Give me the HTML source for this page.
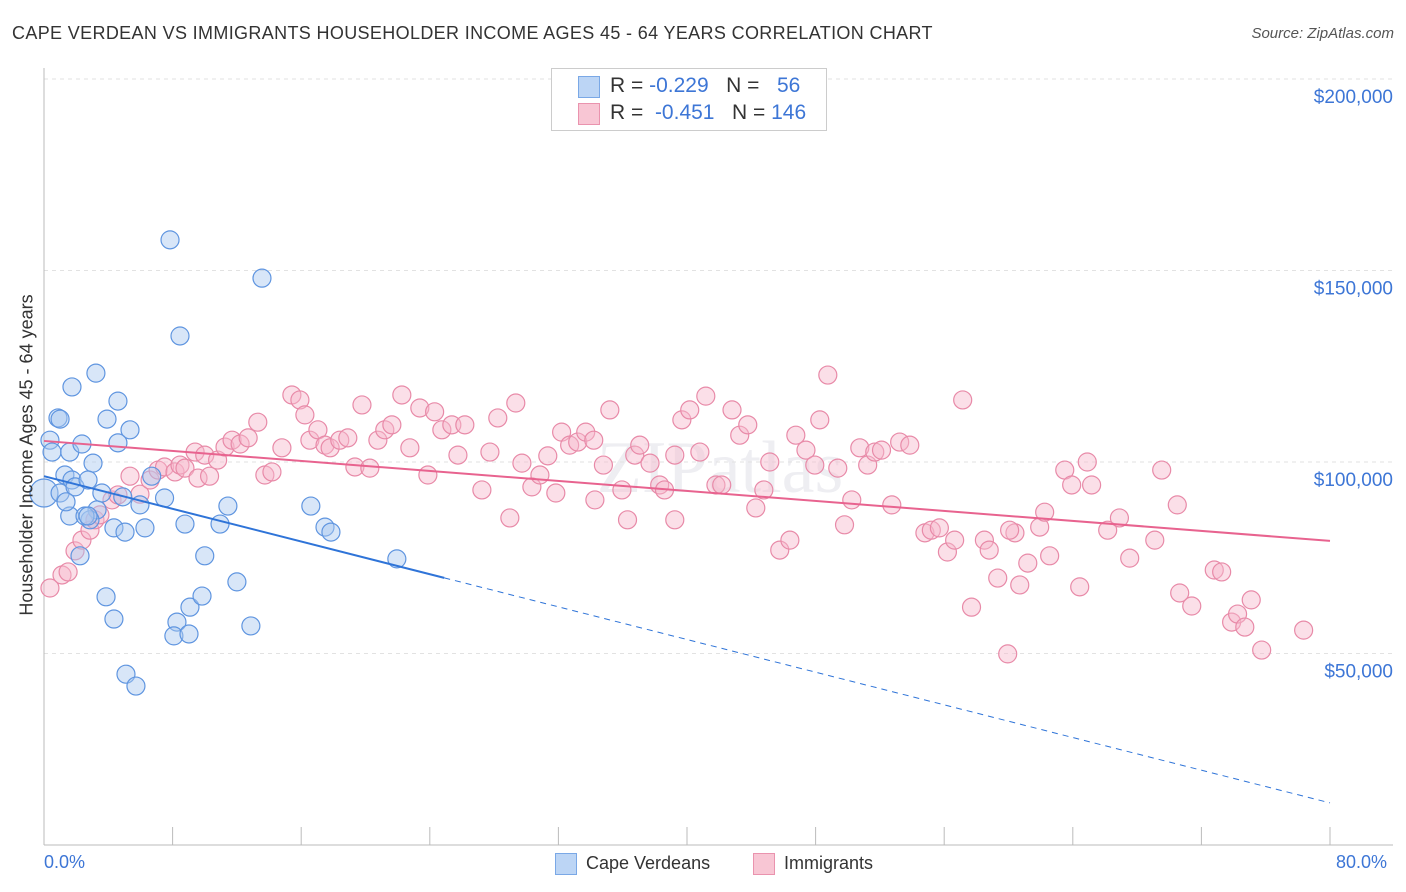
<!DOCTYPE html>
<html><head><meta charset="utf-8">
<style>
body{margin:0;background:#fff;font-family:"Liberation Sans",sans-serif;}
#wrap{position:relative;width:1406px;height:892px;overflow:hidden;}
.t{position:absolute;white-space:nowrap;}
</style></head>
<body>
<div id="wrap">
<div class="t" style="left:12px;top:23px;font-size:18px;color:#333;letter-spacing:0.35px;">CAPE VERDEAN VS IMMIGRANTS HOUSEHOLDER INCOME AGES 45 - 64 YEARS CORRELATION CHART</div>
<div class="t" style="right:12px;top:25px;font-size:15px;color:#555;font-style:italic;">Source: ZipAtlas.com</div>
<svg id="svg" width="1406" height="892" style="position:absolute;left:0;top:0"></svg>
<div style="position:absolute;left:551px;top:68px;width:274px;height:61px;border:1px solid #ccc;background:#fff;">
 <div style="position:absolute;left:26px;top:7px;width:20px;height:20px;background:#bcd5f5;border:1px solid #7aa8e6"></div>
 <div class="t" style="left:58px;top:5px;font-size:21px;color:#333">R = <span style="color:#3d76d6">-0.229</span>&nbsp;&nbsp;&nbsp;N = &nbsp;&nbsp;<span style="color:#3d76d6">56</span></div>
 <div style="position:absolute;left:26px;top:34px;width:20px;height:20px;background:#f8c6d4;border:1px solid #ea93ae"></div>
 <div class="t" style="left:58px;top:32px;font-size:21px;color:#333">R = &nbsp;<span style="color:#3d76d6">-0.451</span>&nbsp;&nbsp;&nbsp;N = <span style="color:#3d76d6">146</span></div>
</div>
<div class="t" style="left:27px;top:455px;font-size:18px;color:#333;transform:translate(-50%,-50%) rotate(-90deg);">Householder Income Ages 45 - 64 years</div>
<div class="t" style="left:44px;top:852px;font-size:18px;color:#3d76d6">0.0%</div>
<div class="t" style="left:1336px;top:852px;font-size:18px;color:#3d76d6">80.0%</div>
<div style="position:absolute;left:555px;top:853px;width:20px;height:20px;background:#bcd5f5;border:1px solid #7aa8e6"></div>
<div class="t" style="left:586px;top:853px;font-size:18px;color:#333">Cape Verdeans</div>
<div style="position:absolute;left:753px;top:853px;width:20px;height:20px;background:#f8c6d4;border:1px solid #ea93ae"></div>
<div class="t" style="left:784px;top:853px;font-size:18px;color:#333">Immigrants</div>
</div>
<script>
const yTicks=[50000,100000,150000,200000];
const yTickLabels=["$50,000","$100,000","$150,000","$200,000"];
const xTicks=[0,8,16,24,32,40,48,56,64,72,80];
const blueX=[0,0.37,0.5,0.87,1.0,1.74,1.0,1.3,1.6,2.36,3.23,3.05,1.74,1.93,2.74,3.3,4.6,3.92,5.35,4.6,3.6,2.86,1.6,2.55,2.24,4.35,5.04,6.28,4.9,6.7,7.5,5.97,7.84,8.46,13.56,8.77,11.44,10.95,10.0,12.0,9.08,9.83,3.86,4.35,8.27,8.08,9.02,12.87,5.1,5.72,16.6,17.48,17.85,21.95,2.74,1.37];
const blueY=[91.9,105.7,102.6,111.5,111.2,119.6,91.9,96.6,102.6,104.7,123.2,99.7,95.3,93.5,95.3,87.5,115.9,111.2,108.4,105.0,91.9,84.9,85.9,85.9,75.5,82.8,81.7,82.8,90.9,96.3,90.6,88.8,158.0,132.9,148.0,83.8,88.5,83.8,75.5,68.7,62.1,65.0,64.8,59.0,58.2,54.6,55.1,57.2,44.6,41.5,88.5,83.0,81.7,74.7,85.9,89.6];
const pinkX=[.37,1.12,1.5,1.93,2.36,2.86,3.17,3.48,4.23,4.6,5.35,5.97,6.6,7.1,7.5,8.15,8.46,8.77,9.4,9.58,10.0,10.3,10.8,11.26,11.7,12.2,12.7,13.3,13.74,14.18,14.8,15.42,15.92,16.23,16.54,17.04,17.48,17.8,18.4,18.9,19.34,19.78,20.27,20.77,21.2,21.64,22.26,22.76,23.38,23.88,24.3,24.75,25.37,25.75,26.18,27.24,27.74,28.23,28.98,29.35,29.73,30.35,30.85,31.34,31.84,32.2,32.7,33.2,33.7,34.2,34.8,35.2,35.95,36.3,36.75,37.06,37.7,38.3,38.6,39.24,39.68,40.17,40.8,41.17,41.8,42.16,42.8,43.28,43.78,44.28,44.78,45.15,45.77,46.4,46.77,47.4,47.95,48.26,48.76,49.38,49.8,50.25,50.75,51.24,51.68,52.1,52.74,53.23,53.86,54.8,55.2,55.7,56.2,56.65,57.15,57.7,58.5,58.8,59.33,59.95,60.4,60.7,61.2,61.94,62.25,62.56,63.5,63.93,64.43,64.9,65.17,66.17,66.9,67.54,69.1,69.53,70.65,70.5,71.4,72.8,73.26,73.88,74.25,74.7,75.1,75.75,78.36,60.07,34.27,39.24];
const pinkY=[67.1,70.5,71.3,76.8,79.6,82.2,84.9,86.2,90.1,91.4,96.3,91.6,95.3,97.9,98.7,97.4,99.2,98.4,102.6,95.8,101.8,96.3,100.5,103.9,105.7,104.7,106.3,110.4,96.6,97.4,103.7,117.5,116.2,112.3,105.7,108.4,104.4,103.7,105.7,106.3,98.7,114.9,98.4,105.7,108.4,109.7,117.5,103.7,114.1,96.6,113.1,108.4,109.7,101.8,109.7,92.7,102.6,111.5,85.4,115.4,99.7,93.5,96.6,101.6,91.9,107.8,104.4,105.2,107.8,105.7,99.2,113.6,92.7,84.9,101.8,104.4,99.7,94.0,92.7,84.9,111.0,113.6,102.6,117.2,94.0,94.0,113.6,107.0,109.7,88.0,92.7,100.0,77.0,79.6,107.0,103.1,99.2,111.0,122.7,98.4,83.6,90.1,103.7,99.2,102.6,103.1,88.8,105.2,104.4,81.5,82.2,82.8,76.5,79.6,116.2,62.1,79.6,77.0,69.7,49.9,81.5,67.9,73.6,83.0,86.9,75.5,97.9,94.0,67.4,100.0,94.0,82.2,85.4,74.9,79.6,97.9,65.8,88.8,62.4,71.8,71.3,58.2,60.3,56.9,64.0,50.9,56.1,82.2,90.1,101.8];
const blueTrend=[96.3,11.0], blueSolidEnd=24.9;
const pinkTrend=[105.5,79.4];

const NS="http://www.w3.org/2000/svg", svg=document.getElementById('svg');
const X0=44,X1=1330,Y0=845,YPER=191.5/50000;
const sx=v=>X0+(v/80)*(X1-X0);
const sy=v=>Y0-v*YPER;
const syk=v=>sy(v*1000);
function mk(tag,attrs){const e=document.createElementNS(NS,tag);for(const k in attrs)e.setAttribute(k,attrs[k]);svg.appendChild(e);return e;}
let wm=mk('text',{x:720,y:492,'font-size':74,'font-family':'Liberation Serif, serif','fill':'#eeeef2','text-anchor':'middle'});
wm.textContent='ZIPatlas';


yTicks.forEach((t,i)=>{
 let g=mk('line',{x1:X0,x2:1393,y1:sy(t),y2:sy(t),stroke:'#e2e2e2','stroke-dasharray':'4,4'});
 
 
 let tx=mk('text',{x:1393,y:sy(t)+24,'font-size':19,fill:'#3d76d6','text-anchor':'end','font-family':'Liberation Sans, sans-serif'});
 tx.textContent=yTickLabels[i];
 
 
});
let ya=mk('line',{x1:X0,x2:X0,y1:68,y2:Y0,stroke:'#bbb'});


let xa=mk('line',{x1:X0,x2:1393,y1:Y0,y2:Y0,stroke:'#bbb'});


xTicks.forEach(t=>{
 let l=mk('line',{x1:sx(t),x2:sx(t),y1:Y0-18,y2:Y0,stroke:'#bbb'});
 
 
});
function dots(xs,ys,fill,stroke,name){
 xs.forEach((x,i)=>{
  let c=mk('circle',{cx:sx(x),cy:syk(ys[i]),r:(x===0?14:9),fill:fill,'fill-opacity':0.45,stroke:stroke,'stroke-width':1.2});
  
  
 });
}
dots(pinkX,pinkY,'#f7b8cb','#e88aa8','immigrants-point');
dots(blueX,blueY,'#a9c8f0','#5f95e0','cape-verdean-point');
const bAt=x=>blueTrend[0]+(blueTrend[1]-blueTrend[0])*x/80;
let bl=mk('line',{x1:sx(0),y1:syk(bAt(0)),x2:sx(blueSolidEnd),y2:syk(bAt(blueSolidEnd)),stroke:'#2f74d8','stroke-width':2});


let bd=mk('line',{x1:sx(blueSolidEnd),y1:syk(bAt(blueSolidEnd)),x2:sx(80),y2:syk(bAt(80)),stroke:'#2f74d8','stroke-width':1,'stroke-dasharray':'6,5'});


let pl=mk('line',{x1:sx(0),y1:syk(pinkTrend[0]),x2:sx(80),y2:syk(pinkTrend[1]),stroke:'#e8638f','stroke-width':2});


</script>
</body></html>
